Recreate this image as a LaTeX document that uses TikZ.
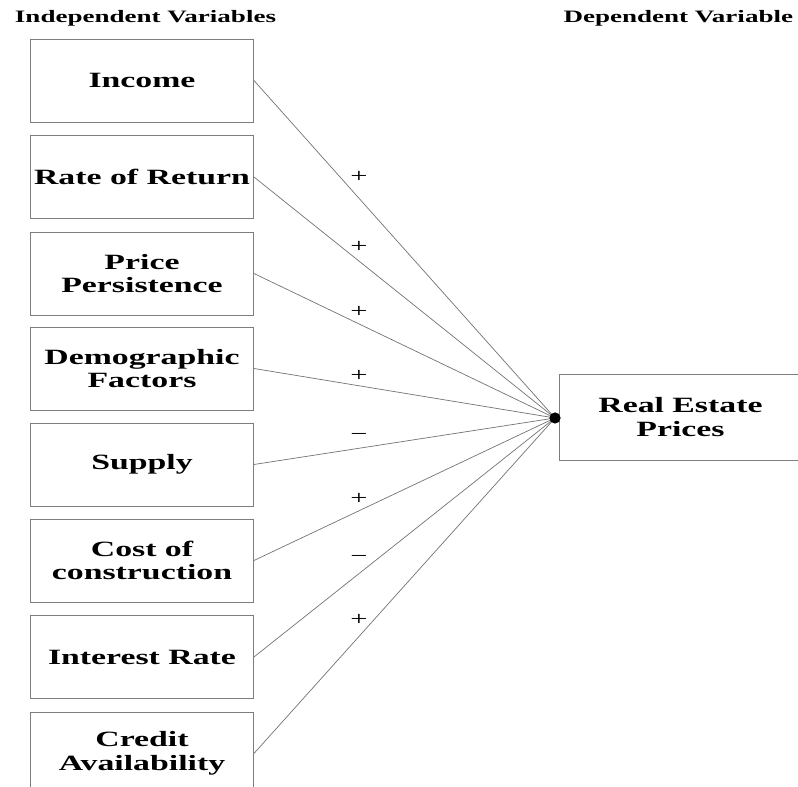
\documentclass[tikz,border=0pt]{standalone}
\usepackage{fontspec}
\setmainfont{Liberation Serif}[FakeStretch=1.55]
\usetikzlibrary{positioning}
\definecolor{LineGray}{RGB}{115,115,115}
\definecolor{BoxGray}{RGB}{125,125,125}

\begin{document}
\begin{tikzpicture}[x=0.025cm,y=-0.025cm,
  every node/.style={align=center,font=\bfseries\fontsize{15.5}{17}\selectfont},
  var/.style={draw=BoxGray,line width=0.6pt,minimum width=5.575cm,minimum height=2.075cm,inner sep=0pt},
  head/.style={font=\bfseries\fontsize{12.4}{14}\selectfont},
  link/.style={draw=LineGray,line width=0.5pt},
  sign/.style={font=\fontsize{14}{14}\selectfont}]
\useasboundingbox (0,0) rectangle (798,787);
\clip (0,0) rectangle (798,787);
\node[head,anchor=west] (hind) at (10,18) {Independent Variables};
\node[head,anchor=east] (hdep) at (798,18) {Dependent Variable};
\node[var] (inc) at (142,80.5) {Income};
\node[var] (ror) at (142,177) {Rate of Return};
\node[var] (pp)  at (142,273.5) {Price\\Persistence};
\node[var] (dem) at (142,368.5) {Demographic\\Factors};
\node[var] (sup) at (142,464.5) {Supply};
\node[var] (coc) at (142,560.5) {Cost of\\construction};
\node[var] (ir)  at (142,657) {Interest Rate};
\node[var] (ca)  at (142,753.5) {Credit\\Availability};
\node[var,anchor=west,minimum width=6.05cm,minimum height=2.15cm] (rep) at (559,417) {Real Estate\\Prices};
\coordinate (hub) at (555,418);
\foreach \n in {inc,ror,pp,dem,sup,coc,ir,ca} \draw[link] (\n.east) -- (hub);
\fill (hub) circle (0.14cm);
% signs of the effects
\node[sign] (s1) at (359,177) {+};
\node[sign] (s2) at (359,247) {+};
\node[sign] (s3) at (359,312) {+};
\node[sign] (s4) at (359,376) {+};
\node[sign] (s5) at (359,437) {−};
\node[sign] (s6) at (359,499) {+};
\node[sign] (s7) at (359,559) {−};
\node[sign] (s8) at (359,620) {+};
\end{tikzpicture}
\end{document}
